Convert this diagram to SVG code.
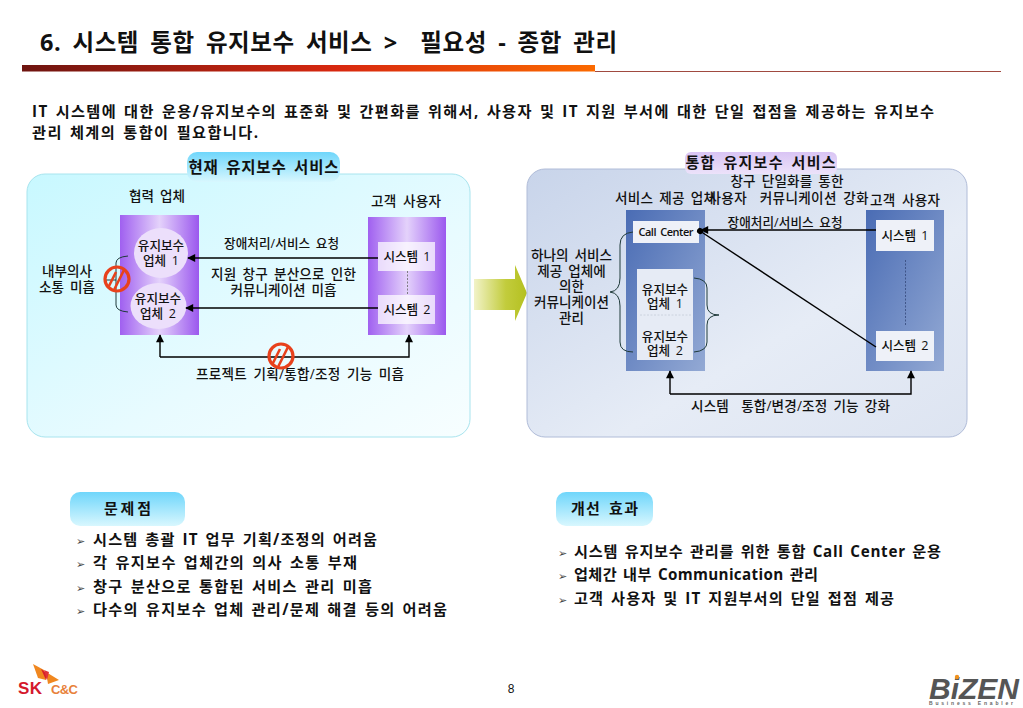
<svg xmlns="http://www.w3.org/2000/svg" width="1023" height="708" viewBox="0 0 1023 708">
<style>
text{font-family:"Open Sans","Noto Sans CJK KR",sans-serif;fill:#111;font-weight:500;text-anchor:middle;word-spacing:.18em}
.l{text-anchor:start}
.b{font-weight:700}
.s12{font-size:12.6px}.s13{font-size:13.6px}
.con{fill:none;stroke:#000;stroke-width:1.4}
.brace{fill:none;stroke:#1f3a3a;stroke-width:1}
.dash{fill:none;stroke:#666;stroke-width:.8;stroke-dasharray:2 1.5}
.wbox{fill:#fff;fill-opacity:.72}
.no circle{fill:none;stroke:#e8411c;stroke-width:3.2}
.no path{fill:none;stroke:#e8411c;stroke-width:2.6}
.t15{font-size:15.2px;font-weight:700;word-spacing:.12em}
.bl{font-size:11px;fill:#444;font-family:"DejaVu Sans",sans-serif;word-spacing:0}
.lat{font-family:"Liberation Sans",sans-serif;font-weight:700;word-spacing:0}
</style>
<defs>
<linearGradient id="bar" x1="0" x2="1"><stop offset="0" stop-color="#6e1410"/><stop offset=".55" stop-color="#d8280f"/><stop offset="1" stop-color="#fb6a00"/></linearGradient>
<linearGradient id="cyanP" x1="0" y1="0" x2="1" y2="1"><stop offset="0" stop-color="#c8f8ff"/><stop offset=".6" stop-color="#e8fbff"/><stop offset="1" stop-color="#f7feff"/></linearGradient>
<linearGradient id="blueP" x1="0" y1="0" x2="1" y2="1"><stop offset="0" stop-color="#c8d4ea"/><stop offset=".6" stop-color="#e6ecf6"/><stop offset="1" stop-color="#dde4f1"/></linearGradient>
<linearGradient id="purple" x1="0" x2="1"><stop offset="0" stop-color="#a060f0"/><stop offset=".5" stop-color="#e4d2fb"/><stop offset="1" stop-color="#9b58ee"/></linearGradient>
<linearGradient id="blue" x1="0" y1="0" x2="1" y2="1"><stop offset="0" stop-color="#4a6cb4"/><stop offset="1" stop-color="#93a9d4"/></linearGradient>
<linearGradient id="tabC" x1="0" y1="0" x2="0" y2="1"><stop offset="0" stop-color="#6fd6fb"/><stop offset="1" stop-color="#d8f7fe"/></linearGradient>
<linearGradient id="tabL" x1="0" y1="0" x2="0" y2="1"><stop offset="0" stop-color="#d9c4f4"/><stop offset="1" stop-color="#ece2fa"/></linearGradient>
<linearGradient id="green" x1="0" x2="1"><stop offset="0" stop-color="#f2f3c8"/><stop offset=".6" stop-color="#c2cc3c"/><stop offset="1" stop-color="#b4c020"/></linearGradient>
<marker id="arr" viewBox="0 0 10 10" refX="9" refY="5" markerWidth="9" markerHeight="8" orient="auto" markerUnits="userSpaceOnUse"><path d="M0 0L10 5L0 10Z" fill="#000"/></marker>
<marker id="dot" viewBox="0 0 10 10" refX="5" refY="5" markerWidth="6" markerHeight="6" orient="auto" markerUnits="userSpaceOnUse"><circle cx="5" cy="5" r="5" fill="#000"/></marker>
<g id="noSign" class="no"><circle r="12"/><path d="M-9 9L-1 -7M-3 11L7 -9"/></g>
</defs>

<g id="header">
<text class="l b" x="40" y="51" style="font-size:23.500px;word-spacing:.2em" textLength="577" xml:space="preserve">6. 시스템 통합 유지보수 서비스 &gt;  필요성 - 종합 관리</text>
<rect x="22" y="65" width="573" height="6.5" fill="url(#bar)"/>
<line x1="595" y1="71.5" x2="1001" y2="71.5" stroke="#a04a40" stroke-width="1"/>
</g>
<g id="intro">
<text class="l t15" x="32" y="117" textLength="902">IT 시스템에 대한 운용/유지보수의 표준화 및 간편화를 위해서, 사용자 및 IT 지원 부서에 대한 단일 접점을 제공하는 유지보수</text>
<text class="l t15" x="32" y="138" textLength="226">관리 체계의 통합이 필요합니다.</text>
</g>

<g id="panel-current">
<rect x="27" y="174" width="443" height="263" rx="18" fill="url(#cyanP)" stroke="#a8e4ee"/>
</g>
<g id="tab-current">
<rect x="187" y="152" width="153" height="30" rx="10" fill="url(#tabC)"/>
<text class="b" x="263.500" y="173" style="font-size:15.5px" textLength="150">현재 유지보수 서비스</text>
</g>
<g id="vendors-current">
<text class="s13" x="157" y="201" textLength="56">협력 업체</text>
<rect x="120" y="215" width="79" height="120" fill="url(#purple)"/>
</g>
<g id="vendor-1"><ellipse cx="161" cy="253" rx="27" ry="25" fill="#ecdffb"/><text class="s12" x="161" y="250">유지보수</text><text class="s12" x="161" y="265">업체 1</text></g>
<g id="vendor-2"><ellipse cx="158.500" cy="306" rx="28" ry="23" fill="#ecdffb"/><text class="s12" x="158" y="303">유지보수</text><text class="s12" x="158" y="318">업체 2</text></g>
<g id="customers-current">
<text class="s13" x="406" y="206" textLength="70">고객 사용자</text>
<rect x="368" y="217" width="78" height="118" fill="url(#purple)"/>
</g>
<g id="system-1"><rect class="wbox" x="378" y="242" width="57" height="29"/><text class="s12" x="407" y="261" textLength="47">시스템 1</text></g>
<g id="system-2"><rect class="wbox" x="378" y="295" width="57" height="29"/><text class="s12" x="407" y="314" textLength="47">시스템 2</text></g>
<g id="labels-current">
<text class="s13" x="67" y="276">내부의사</text>
<text class="s13" x="67" y="292">소통 미흡</text>
<text class="s12" x="281.500" y="248" textLength="115">장애처리/서비스 요청</text>
<text class="s13" x="283.500" y="279" textLength="145">지원 창구 분산으로 인한</text>
<text class="s13" x="283.500" y="295">커뮤니케이션 미흡</text>
<text class="s13" x="300" y="379" textLength="208">프로젝트 기획/통합/조정 기능 미흡</text>
</g>
<g id="connectors-current">
<line class="dash" x1="407.500" y1="271" x2="407.500" y2="295"/>
<line class="con" x1="378" y1="258" x2="188" y2="258" marker-end="url(#arr)"/>
<line class="con" x1="378" y1="308" x2="186" y2="308" marker-end="url(#arr)"/>
<path class="con" d="M160 357V335" marker-end="url(#arr)"/>
<path class="con" d="M160 357H409V335" marker-end="url(#arr)"/>
<path class="brace" d="M128 256Q116 257 116 263V305Q116 311 128 312M116 280H106"/>
<use href="#noSign" x="117" y="279"/>
<use href="#noSign" x="281" y="356"/>
</g>

<g id="transition-arrow"><path d="M474 279H515V265L527 293L515 321V310H474Z" fill="url(#green)"/></g>

<g id="panel-integrated">
<rect x="527" y="169" width="440" height="268" rx="18" fill="url(#blueP)" stroke="#b0bcd8"/>
</g>
<g id="tab-integrated">
<rect x="685" y="152" width="152" height="22" rx="6" fill="url(#tabL)"/>
<text class="b" x="760.500" y="168" style="font-size:15px" textLength="150">통합 유지보수 서비스</text>
</g>
<g id="labels-integrated">
<text class="s13" x="787" y="186" textLength="113">창구 단일화를 통한</text>
<text class="s13" x="665.500" y="203" textLength="101">서비스 제공 업체</text>
<text class="s13" x="788.500" y="203" textLength="160" xml:space="preserve">사용자  커뮤니케이션 강화</text>
<text class="s13" x="905" y="205" textLength="70">고객 사용자</text>
<text class="s12" x="785" y="227" textLength="115">장애처리/서비스 요청</text>
<text class="s13" x="571.500" y="260">하나의 서비스</text>
<text class="s13" x="571.500" y="276">제공 업체에</text>
<text class="s13" x="571.500" y="291">의한</text>
<text class="s13" x="571.500" y="307">커뮤니케이션</text>
<text class="s13" x="571.500" y="323">관리</text>
<text class="s13" x="790.500" y="411" textLength="199" xml:space="preserve">시스템  통합/변경/조정 기능 강화</text>
</g>
<g id="provider">
<rect x="626" y="210" width="79" height="161" fill="url(#blue)"/>
</g>
<g id="call-center"><rect x="633" y="221" width="66" height="22" fill="#eef1f8"/><text x="666" y="236" style="font-size:11px;font-weight:600" textLength="55">Call Center</text></g>
<g id="vendors-integrated">
<rect x="637" y="269" width="56" height="91" fill="#e6ebf5"/>
<line x1="640" y1="315" x2="692" y2="315" stroke="#c4ccd8" stroke-width=".8" stroke-dasharray="2 1.5"/>
<text class="s12" x="665" y="294">유지보수</text><text class="s12" x="665" y="308">업체 1</text>
<text class="s12" x="665" y="341">유지보수</text><text class="s12" x="665" y="355">업체 2</text>
</g>
<g id="customers-integrated">
<rect x="866" y="210" width="78" height="161" fill="url(#blue)"/>
</g>
<g id="system-i1"><rect x="876" y="220" width="58" height="31" fill="#eef1f8"/><text class="s12" x="905" y="240" textLength="47">시스템 1</text></g>
<g id="system-i2"><rect x="876" y="331" width="58" height="30" fill="#eef1f8"/><text class="s12" x="905" y="350" textLength="47">시스템 2</text></g>
<g id="connectors-integrated">
<line class="dash" x1="905.500" y1="260" x2="905.500" y2="325" style="stroke:#33477a"/>
<line class="con" x1="876" y1="230" x2="701" y2="230" marker-end="url(#arr)"/>
<line class="con" x1="876" y1="347" x2="700" y2="231" marker-end="url(#dot)"/>
<path class="con" d="M670 394V371" marker-end="url(#arr)"/>
<path class="con" d="M670 394H911V371" marker-end="url(#arr)"/>
<path class="brace" d="M633 232Q620 233 620 245V278Q620 291 610 292Q620 293 620 306V342Q620 352 633 352"/>
<path class="brace" d="M694 278Q707 279 707 288V305Q707 315 719 315Q707 315 707 325V342Q707 351 694 352"/>
</g>

<g id="problems">
<rect x="70" y="492" width="115" height="34" rx="10" fill="url(#tabC)"/>
<text class="b" x="127.500" y="514" style="font-size:15px" textLength="47">문제점</text>
<text class="l bl" x="76" y="545">➢</text><text class="l t15" x="93" y="545" textLength="284">시스템 총괄 IT 업무 기획/조정의 어려움</text>
<text class="l bl" x="76" y="568">➢</text><text class="l t15" x="93" y="568" textLength="264">각 유지보수 업체간의 의사 소통 부재</text>
<text class="l bl" x="76" y="592">➢</text><text class="l t15" x="93" y="592" textLength="279">창구 분산으로 통합된 서비스 관리 미흡</text>
<text class="l bl" x="76" y="615">➢</text><text class="l t15" x="93" y="615" textLength="354">다수의 유지보수 업체 관리/문제 해결 등의 어려움</text>
</g>
<g id="improvements">
<rect x="556" y="492" width="97" height="34" rx="10" fill="url(#tabC)"/>
<text class="b" x="604.500" y="514" style="font-size:15px" textLength="67">개선 효과</text>
<text class="l bl" x="558" y="557">➢</text><text class="l t15" x="574" y="557" textLength="367">시스템 유지보수 관리를 위한 통합 Call Center 운용</text>
<text class="l bl" x="558" y="580">➢</text><text class="l t15" x="574" y="580" textLength="244">업체간 내부 Communication 관리</text>
<text class="l bl" x="558" y="604">➢</text><text class="l t15" x="574" y="604" textLength="320">고객 사용자 및 IT 지원부서의 단일 접점 제공</text>
</g>

<g id="footer">
<text x="511" y="693" style="font-size:12px;font-family:'Liberation Sans',sans-serif;font-weight:400">8</text>
<path d="M33 664L44 670L46 680L38 678Z" fill="#f0871f"/>
<path d="M41 669L46 680L48 674Z" fill="#d81f2a"/>
<path d="M46 672L59 680L48 684Z" fill="#f0871f"/>
<path d="M44 670L49 672L47 680Z" fill="#e0323a"/>
<text class="l lat" x="18" y="694" style="font-size:17px;fill:#d4182c" textLength="24">SK</text>
<text class="l lat" x="51" y="694" style="font-size:13px;fill:#e8813a" textLength="27">C&amp;C</text>
<text class="l lat" x="929" y="699" style="font-size:30px;font-style:italic;fill:#555" textLength="90">BiZEN</text>
<circle cx="957" cy="677" r="2.200" fill="#f0921e"/>
<text class="l lat" x="929" y="705" style="font-size:5px;fill:#666" textLength="84">Business Enabler</text>
</g>
</svg>
